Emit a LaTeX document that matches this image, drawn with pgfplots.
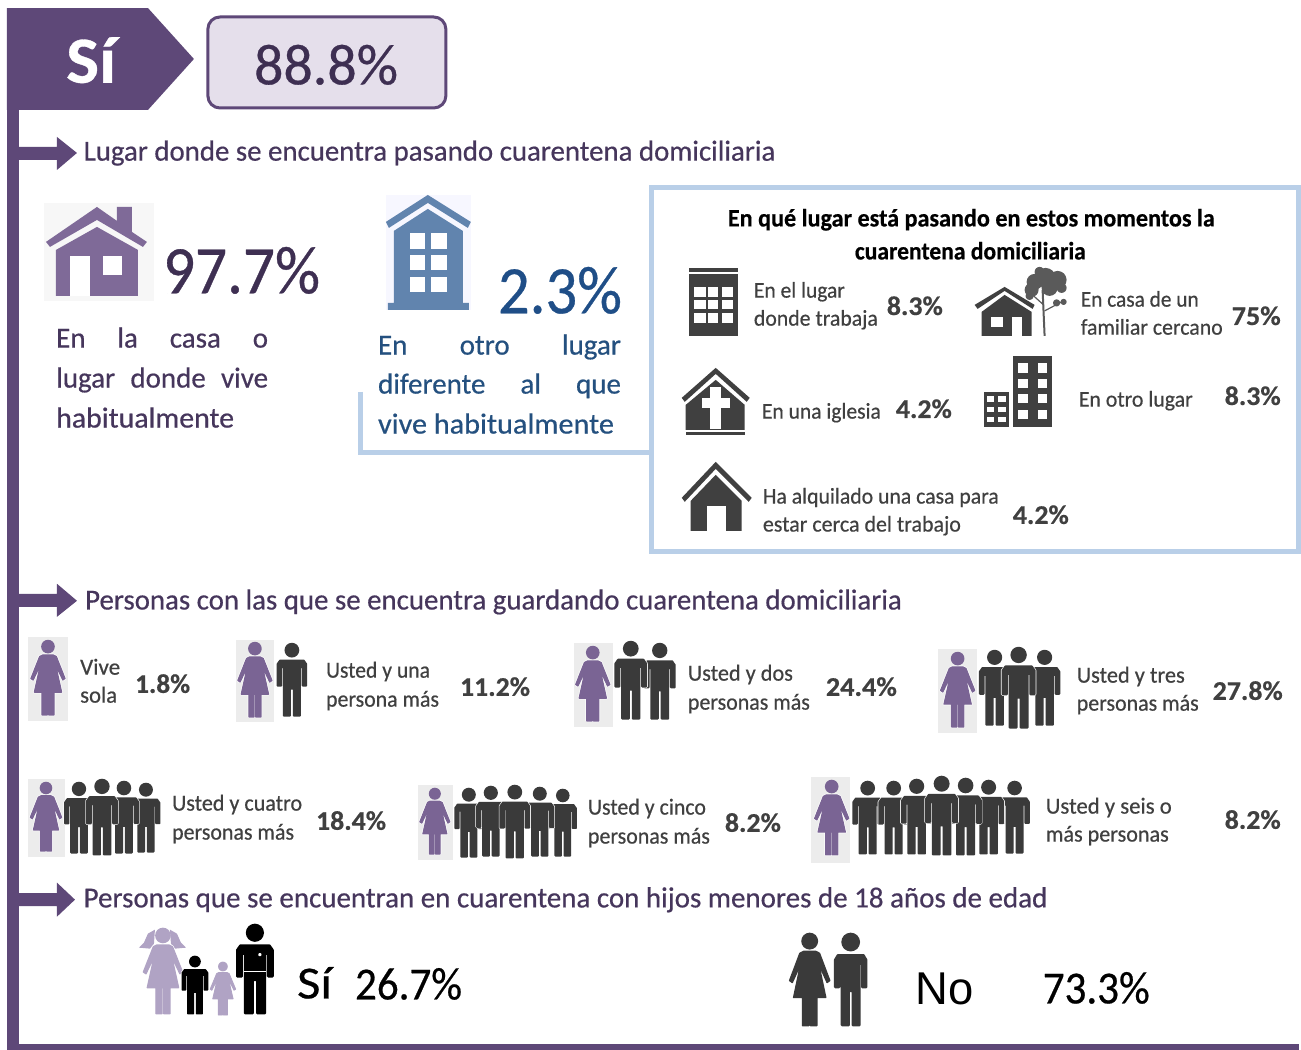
\documentclass[border=0pt]{standalone}
\usepackage{graphicx}
\usepackage{fontspec}
\setmainfont{Carlito}
\newfontfamily\lib{Liberation Sans}
\usepackage{pgfplots}
\usepackage{pgfplotstable}
\pgfplotsset{compat=1.18}
\definecolor{pur}{HTML}{5E4878}
\definecolor{purd}{HTML}{3E2F52}
\definecolor{purt}{HTML}{46365C}
\definecolor{purw}{HTML}{7A6494}
\definecolor{purh}{HTML}{7F6A98}
\definecolor{lil}{HTML}{E5DFEB}
\definecolor{lig}{HTML}{B0A3C4}
\definecolor{blu}{HTML}{6184AE}
\definecolor{blud}{HTML}{1F4E87}
\definecolor{blut}{HTML}{24507F}
\definecolor{blul}{HTML}{B9CFE8}
\definecolor{drk}{HTML}{3A3A3A}
\definecolor{gry}{HTML}{404040}
\definecolor{tre}{HTML}{5A5A5A}
\definecolor{bgg}{HTML}{ECECEC}
\pgfplotstableread{
x y
-16 24
16 24
19.5 29
19.5 58
14.5 58
14.5 33
11 33
11 98.5
2.5 98.5
2.5 62
-2.5 62
-2.5 98.5
-11 98.5
-11 33
-14.5 33
-14.5 58
-19.5 58
-19.5 29
}\mantbl
\pgfplotstableread{
x y
-7 20
7 20
11 22
22.5 51
19.5 53
10 33
18 69
8 69
8 99
1 99
1 69
-1 69
-1 99
-8 99
-8 69
-18 69
-10 33
-19.5 53
-22.5 51
-11 22
}\womtbl
\pgfplotstableread{
x y
1 0
0.92 0.38
0.71 0.71
0.38 0.92
0 1
-0.38 0.92
-0.71 0.71
-0.92 0.38
-1 0
-0.92 -0.38
-0.71 -0.71
-0.38 -0.92
0 -1
0.38 -0.92
0.71 -0.71
0.92 -0.38
}\circtbl
\newcommand\poly[2]{\addplot[fill=#1,draw=none] coordinates {#2} --cycle;}
\newcommand\rect[5]{\addplot[fill=#5,draw=none] coordinates {(#1,#2)(#3,#2)(#3,#4)(#1,#4)} --cycle;}
\newcommand\blob[4]{\addplot[fill=#4,draw=none] table[x expr=\thisrow{x}*(#3)+(#1),y expr=\thisrow{y}*(#3)+(#2)]{\circtbl} --cycle;}
% table x top h color xscale stroke-factor
\newcommand\shape[7]{%
 \addplot[fill=white,draw=white,line width=(#7*(#4)+1.3)*1pt,line join=round] table[x expr=\thisrow{x}*(#6)*(#4)/100+(#2),y expr=\thisrow{y}*(#4)/100+(#3)]{#1} --cycle;
 \addplot[fill=#5,draw=#5,line width=(#7*(#4))*1pt,line join=round] table[x expr=\thisrow{x}*(#6)*(#4)/100+(#2),y expr=\thisrow{y}*(#4)/100+(#3)]{#1} --cycle;}
\newcommand\man[5][1]{\blob{#2}{#3+0.1*(#4)}{0.1*(#4)+0.6}{white}\shape{\mantbl}{#2}{#3}{#4}{#5}{#1}{0.025}\blob{#2}{#3+0.1*(#4)}{0.1*(#4)}{#5}}
\newcommand\wom[5][1]{\shape{\womtbl}{#2}{#3}{#4}{#5}{#1}{0.015}\blob{#2}{#3+0.09*(#4)}{0.09*(#4)}{#5}}
\newcommand\T[6]{\node[anchor=base west,inner sep=0pt,text=#4] at (axis cs:#1,{#2+0.3*#3+1}) {\fontsize{#3}{#3}\selectfont\addfontfeature{FakeBold=0.5}\resizebox{#5pt}{\height}{#6}};}
\newcommand\J[6]{\node[anchor=base west,inner sep=0pt,text=#4] at (axis cs:#1,{#2+0.3*#3+1}) {\fontsize{#3}{#3}\selectfont\addfontfeature{FakeBold=0.5}\makebox[#5pt][s]{#6}};}
\begin{document}
\begin{tikzpicture}
\begin{axis}[scale only axis,width=1301pt,height=1050pt,xmin=0,xmax=1301,ymin=0,ymax=1050,y dir=reverse,axis lines=none,clip=false]
\rect{0}{0}{1301}{1050}{white}
% frame
\rect{7}{8}{19}{1050}{pur}
\rect{7}{1044}{1299}{1050}{pur}
\poly{pur}{(7,8)(148,8)(194,59)(148,110)(7,110)}
\T{66}{62}{66}{white}{50}{\bfseries Sí}
\addplot[fill=lil,draw=pur,line width=3pt,line join=round] coordinates {(220,17)(434,17)(438.6,17.9)(442.5,20.5)(445.1,24.4)(446,29)(446,96)(445.1,100.6)(442.5,104.5)(438.6,107.1)(434,108)(220,108)(215.4,107.1)(211.5,104.5)(208.9,100.6)(208,96)(208,29)(208.9,24.4)(211.5,20.5)(215.4,17.9)} --cycle;
\T{254}{66}{58}{purd}{144}{88.8\%}
% section 1
\poly{pur}{(19,147)(57,147)(57,137)(77,153)(57,170)(57,160)(19,160)}
\T{83.5}{151}{29}{purt}{692}{Lugar donde se encuentra pasando cuarentena domiciliaria}
% purple house
\rect{44}{203}{154}{301}{black!3}
\poly{purh}{(97,207)(117,221)(117,207)(132,207)(132,232)(147,242)(143,247)(97,220)(50,247)(46,242)}
\poly{purh}{(97,227)(138,250)(138,296)(56,296)(56,250)}
\rect{70}{256}{90}{296}{white}
\rect{103}{256}{122}{275}{white}
\T{163}{272}{68}{purd}{157}{97.7\%}
\J{56}{338}{29}{purt}{212}{En la casa o}
\J{56}{378}{29}{purt}{212}{lugar donde vive}
\T{56}{418}{29}{purt}{178}{habitualmente}
% blue building
\rect{386}{195}{471}{310}{blue!3}
\poly{blu}{(428,195)(471,222)(468,228)(428,203)(389,228)(386,222)}
\poly{blu}{(428,209)(463,231)(463,303)(469,303)(469,310)(388,310)(388,303)(394,303)(394,231)}
\rect{410}{233}{425}{249}{white}\rect{431}{233}{447}{249}{white}
\rect{410}{255}{425}{270}{white}\rect{431}{255}{447}{270}{white}
\rect{410}{277}{425}{292}{white}\rect{431}{277}{447}{292}{white}
\T{498}{292}{68}{blud}{124}{2.3\%}
\J{378}{345}{29}{blut}{243}{En otro lugar}
\J{378}{384}{29}{blut}{243}{diferente al que}
\T{378}{424}{29}{blut}{236}{vive habitualmente}
% connector and box
\addplot[draw=blul,line width=5pt,line join=miter] coordinates {(361,392)(361,453)(652,453)};
\addplot[draw=blul,line width=5pt,fill=white,line join=miter] coordinates {(652,188)(1299,188)(1299,552)(652,552)} --cycle;
\T{728}{218}{25}{black}{487}{\bfseries En qué lugar está pasando en estos momentos la}
\T{855}{251}{25}{black}{231}{\bfseries cuarentena domiciliaria}
% building 1
\rect{689}{268}{738}{272}{gry}
\rect{689}{274}{738}{336}{gry}
\rect{694}{287}{706}{297}{white}\rect{708}{287}{718}{297}{white}\rect{722}{287}{733}{297}{white}
\rect{694}{300}{706}{309}{white}\rect{708}{300}{718}{309}{white}\rect{722}{300}{733}{309}{white}
\rect{694}{313}{706}{323}{white}\rect{708}{313}{718}{323}{white}\rect{722}{313}{733}{323}{white}
\T{754}{290}{22.5}{gry}{91}{En el lugar}
\T{754}{318}{22.5}{gry}{124}{donde trabaja}
\T{887}{306}{27}{gry}{56}{\bfseries 8.3\%}
% house + tree
\blob{1046}{278}{10}{tre}\blob{1035}{282}{8}{tre}\blob{1058}{280}{9}{tre}\blob{1032}{290}{7}{tre}\blob{1050}{288}{8}{tre}\blob{1040}{272}{5}{tre}\blob{1062}{288}{5}{tre}\blob{1057}{303}{3.5}{tre}\blob{1064}{302}{3}{tre}\blob{1030}{296}{4}{tre}
\addplot[draw=tre,line width=2pt] coordinates {(1043,290)(1045,336)};
\addplot[draw=tre,line width=1.2pt] coordinates {(1045,311)(1062,302)};
\addplot[draw=tre,line width=1.2pt] coordinates {(1044,305)(1034,296)};
\addplot[fill=white,draw=white,line width=2pt] coordinates {(1005,287)(1035,307)(1035,337)(975,337)(975,305)} --cycle;
\poly{gry}{(1005,287)(1035,305)(1033,309)(1005,291)(978,309)(975,305)}
\poly{gry}{(1005,295)(1032,312)(1032,336)(982,336)(982,312)}
\rect{991}{317}{1003}{327}{white}
\rect{1012}{317}{1022}{336}{white}
\T{1081}{299}{22.5}{gry}{118}{En casa de un}
\T{1081}{327}{22.5}{gry}{142}{familiar cercano}
\T{1232}{316}{27}{gry}{49}{\bfseries 75\%}
% church
\poly{gry}{(716,368)(750,398)(747,402)(716,374)(685,402)(682,398)}
\poly{gry}{(716,380)(745,405)(745,430)(686,430)(686,405)}
\rect{686}{432}{745}{435}{gry}
\rect{710}{387}{721}{429}{white}\rect{702}{398}{730}{408}{white}
\T{762}{411}{22.5}{gry}{119}{En una iglesia}
\T{896}{409}{27}{gry}{56}{\bfseries 4.2\%}
% buildings
\rect{984}{392}{1009}{427}{gry}
\rect{1013}{356}{1052}{427}{gry}
\rect{987}{396}{994}{402}{white}\rect{998}{396}{1006}{402}{white}
\rect{987}{407}{994}{412}{white}\rect{998}{407}{1006}{412}{white}
\rect{987}{417}{994}{422}{white}\rect{998}{417}{1006}{422}{white}
\rect{1018}{363}{1028}{373}{white}\rect{1038}{363}{1047}{373}{white}
\rect{1018}{379}{1028}{388}{white}\rect{1038}{379}{1047}{388}{white}
\rect{1018}{394}{1028}{403}{white}\rect{1038}{394}{1047}{403}{white}
\rect{1018}{410}{1028}{419}{white}\rect{1038}{410}{1047}{419}{white}
\T{1079}{399}{22.5}{gry}{114}{En otro lugar}
\T{1225}{396}{27}{gry}{56}{\bfseries 8.3\%}
% rented house
\poly{gry}{(716,462)(752,498)(749,502)(716,469)(685,502)(682,498)}
\poly{gry}{(716,475)(742,501)(742,531)(691,531)(691,501)}
\rect{707}{506}{726}{531}{white}
\T{763}{496}{22.5}{gry}{236}{Ha alquilado una casa para}
\T{763}{524}{22.5}{gry}{198}{estar cerca del trabajo}
\T{1013}{515}{27}{gry}{56}{\bfseries 4.2\%}
% section 2
\poly{pur}{(19,594)(57,594)(57,584)(77,601)(57,617)(57,607)(19,607)}
\T{85}{600}{29}{purt}{817}{Personas con las que se encuentra guardando cuarentena domiciliaria}
% group 1
\rect{28}{637}{68}{721}{bgg}
\wom{48}{640}{76}{purw}
\T{80}{667}{23}{gry}{40}{Vive}
\T{80}{695}{23}{gry}{37}{sola}
\T{135}{684}{27}{gry}{55}{\bfseries 1.8\%}
% group 2
\rect{236}{640}{274}{722}{bgg}
\wom{255}{642}{76}{purw}
\man{292}{643}{74}{drk}
\T{326}{670}{23}{gry}{104}{Usted y una}
\T{326}{699}{23}{gry}{113}{persona más}
\T{460}{687}{27}{gry}{70}{\bfseries 11.2\%}
% group 3
\rect{574}{643}{613}{727}{bgg}
\wom{593}{646}{76}{purw}
\man{660}{643}{77}{drk}
\man{631}{641}{79}{drk}
\T{688}{673}{23}{gry}{105}{Usted y dos}
\T{688}{702}{23}{gry}{122}{personas más}
\T{826}{687}{27}{gry}{71}{\bfseries 24.4\%}
% group 4
\rect{938}{649}{977}{733}{bgg}
\wom{958}{652}{76}{purw}
\man{995}{650}{76}{drk}
\man{1045}{650}{76}{drk}
\man{1019}{647}{82}{drk}
\T{1077}{675}{23}{gry}{108}{Usted y tres}
\T{1077}{703}{23}{gry}{122}{personas más}
\T{1213}{691}{27}{gry}{70}{\bfseries 27.8\%}
% group 5
\rect{28}{779}{65}{857}{bgg}
\wom{46}{782}{70}{purw}
\man{146}{783}{70}{drk}
\man{79}{782}{72}{drk}
\man{124}{781}{73}{drk}
\man{102}{779}{77}{drk}
\T{172}{803}{23}{gry}{130}{Usted y cuatro}
\T{172}{832}{23}{gry}{122}{personas más}
\T{316}{821}{27}{gry}{70}{\bfseries 18.4\%}
% group 6
\rect{418}{785}{453}{860}{bgg}
\wom{435}{788}{67}{purw}
\man{563}{789}{68}{drk}
\man{469}{788}{70}{drk}
\man{540}{787}{70}{drk}
\man{491}{786}{71}{drk}
\man{515}{785}{74}{drk}
\T{588}{807}{23}{gry}{118}{Usted y cinco}
\T{588}{836}{23}{gry}{122}{personas más}
\T{725}{823}{27}{gry}{56}{\bfseries 8.2\%}
% group 7
\rect{811}{777}{850}{863}{bgg}
\wom{832}{780}{76}{purw}
\man{1015}{781}{73}{drk}
\man{868}{781}{74}{drk}
\man{894}{781}{74}{drk}
\man{989}{780}{75}{drk}
\man{917}{779}{76}{drk}
\man{966}{778}{78}{drk}
\man{942}{776}{80}{drk}
\T{1046}{806}{23}{gry}{126}{Usted y seis o}
\T{1046}{834}{23}{gry}{123}{más personas}
\T{1225}{820}{27}{gry}{56}{\bfseries 8.2\%}
% section 3
\poly{pur}{(19,893.5)(57,893.5)(57,883)(75,900)(57,917)(57,906.5)(19,906.5)}
\T{83.5}{898}{29}{purt}{964}{Personas que se encuentran en cuarentena con hijos menores de 18 años de edad}
% family
\poly{lig}{(155,930)(148,934)(144,943)(139,948)(150,949)(154,944)}
\poly{lig}{(170,930)(177,934)(181,943)(186,948)(175,949)(171,944)}
\wom{163}{928}{87}{lig}
\man[1.1]{195}{956}{59}{black}
\wom[1.05]{223}{962}{54}{lig}
\man{255}{924}{91}{black}
\rect{244}{971}{266}{972.4}{white}
\blob{260}{955}{1.6}{white}
\T{297}{984}{46}{black}{35}{Sí}
\T{355}{985}{46}{black}{107}{26.7\%}
% couple
\wom[0.95]{810}{933}{94}{drk}
\man[0.85]{851}{933}{94}{drk}
\node[anchor=base west,inner sep=0pt,text=black] at (axis cs:916,1005) {\fontsize{46}{46}\selectfont\lib\resizebox{58pt}{\height}{No}};
\T{1043}{989}{46}{black}{107}{73.3\%}
\end{axis}
\end{tikzpicture}
\end{document}
